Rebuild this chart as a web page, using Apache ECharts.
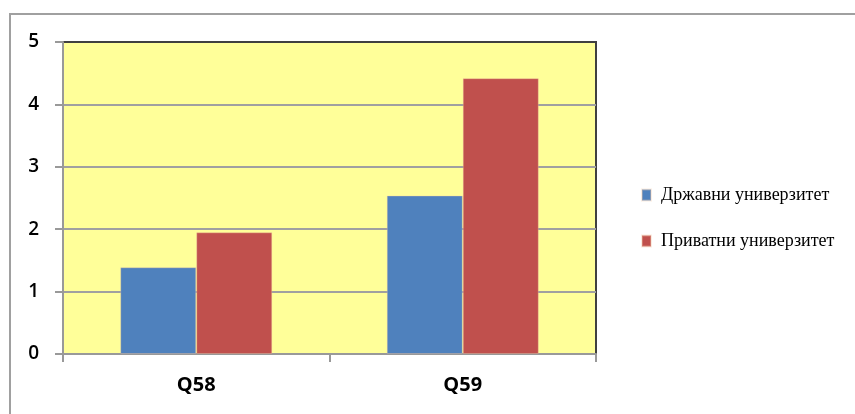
<!DOCTYPE html>
<html>
<head>
<meta charset="utf-8">
<script src="https://cdn.jsdelivr.net/npm/echarts@6/dist/echarts.min.js"></script>
<style>
  html, body { margin: 0; padding: 0; background: #fff; }
  #chart { width: 855px; height: 414px; }
</style>
</head>
<body>
<div id="chart"></div>
<script>
// Questions on the category axis
const categories = ['Q58', 'Q59'];
// Average score per university type
const stateUniversity = [1.39, 2.54];
const privateUniversity = [1.95, 4.42];
const seriesNames = ['Државни универзитет', 'Приватни универзитет'];
const yTicks = [0, 1, 2, 3, 4, 5];

const chart = echarts.init(document.getElementById('chart'), null, { renderer: 'canvas' });

const barStyle = (color) => ({
  color: color,
  borderColor: 'rgba(240,200,170,0.35)',
  borderWidth: 1
});

chart.setOption({
  animation: false,
  backgroundColor: '#ffffff',
  graphic: [{
    type: 'rect',
    shape: { x: 10, y: 14, width: 900, height: 500 },
    style: { fill: 'none', stroke: '#a0a0a0', lineWidth: 2 },
    silent: true,
    z: 100
  }],
  grid: {
    left: 63, top: 42, right: 259, bottom: 60,
    show: true,
    backgroundColor: '#FFFF99',
    borderColor: '#404040',
    borderWidth: 2
  },
  legend: {
    orient: 'vertical',
    left: 636,
    top: 181,
    itemWidth: 9,
    itemHeight: 11,
    itemGap: 28,
    icon: 'rect',
    data: seriesNames,
    textStyle: {
      fontFamily: 'Liberation Serif',
      fontSize: 18,
      color: '#000',
      padding: [0, 0, 0, 5]
    }
  },
  xAxis: {
    type: 'category',
    data: categories,
    axisLine: { lineStyle: { color: '#999999', width: 2 } },
    axisTick: { show: true, length: 8, lineStyle: { color: '#999999', width: 2 } },
    axisLabel: {
      fontFamily: 'Open Sans',
      fontWeight: 'bold',
      fontSize: 20,
      color: '#000',
      margin: 21
    }
  },
  yAxis: {
    type: 'value',
    min: yTicks[0],
    max: yTicks[yTicks.length - 1],
    interval: 1,
    axisLine: { show: true, lineStyle: { color: '#999999', width: 2 } },
    axisTick: { show: true, length: 8, lineStyle: { color: '#999999', width: 2 } },
    splitLine: { show: true, showMaxLine: false, lineStyle: { color: '#a0a0a0', width: 2 } },
    axisLabel: {
      fontFamily: 'Open Sans',
      fontWeight: 600,
      fontSize: 19,
      color: '#000',
      margin: 24
    }
  },
  series: [
    {
      name: seriesNames[0],
      type: 'bar',
      data: stateUniversity,
      barWidth: 76,
      barGap: '0%',
      itemStyle: barStyle('#4F81BD')
    },
    {
      name: seriesNames[1],
      type: 'bar',
      data: privateUniversity,
      barWidth: 76,
      barGap: '0%',
      itemStyle: barStyle('#C0504D')
    }
  ]
});
</script>
</body>
</html>
